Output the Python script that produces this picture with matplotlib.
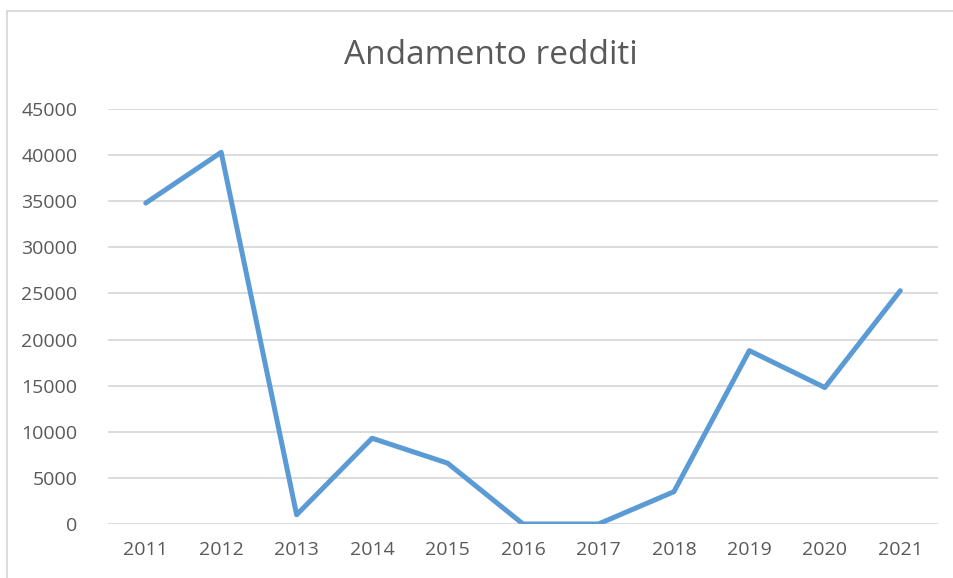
import matplotlib.pyplot as plt
from matplotlib.lines import Line2D

# dati
anni = ["2011", "2012", "2013", "2014", "2015", "2016", "2017", "2018", "2019", "2020", "2021"]
redditi = [34800, 40300, 1000, 9300, 6600, 0, 0, 3500, 18800, 14800, 25300]
y_ticks = [0, 5000, 10000, 15000, 20000, 25000, 30000, 35000, 40000, 45000]

plt.rcParams['font.family'] = ['Open Sans', 'DejaVu Sans']
grigio = "#595959"

fig = plt.figure(figsize=(9.54, 5.78), dpi=100)
ax = fig.add_axes([108 / 954, 1 - 524 / 578, 830 / 954, 415 / 578])

ax.plot(range(len(anni)), redditi, color="#5B9BD5", lw=3.6,
        solid_capstyle="round", solid_joinstyle="round", zorder=3)

ax.set_xlim(-0.5, len(anni) - 0.5)
ax.set_ylim(0, 45000)
ax.set_xticks(range(len(anni)))
ax.set_xticklabels(anni)
ax.set_yticks(y_ticks)
ax.set_yticklabels([str(v) for v in y_ticks])
ax.tick_params(length=0, labelsize=14, colors=grigio)
ax.tick_params(axis="y", pad=22)
ax.tick_params(axis="x", pad=12)
ax.grid(axis="y", color="#d9d9d9", lw=1.3)
for s in ax.spines.values():
    s.set_visible(False)

fig.text(491 / 954, 1 - 56 / 578, "Andamento redditi", ha="center", va="center",
         fontsize=24, color=grigio)

# bordo del grafico
fig.add_artist(Line2D([7 / 954, 7 / 954], [0, 1 - 10.5 / 578], color="#d9d9d9", lw=1.3))
fig.add_artist(Line2D([7 / 954, 1], [1 - 10.5 / 578, 1 - 10.5 / 578], color="#d9d9d9", lw=1.3))

fig.savefig("out.png", dpi=100)
